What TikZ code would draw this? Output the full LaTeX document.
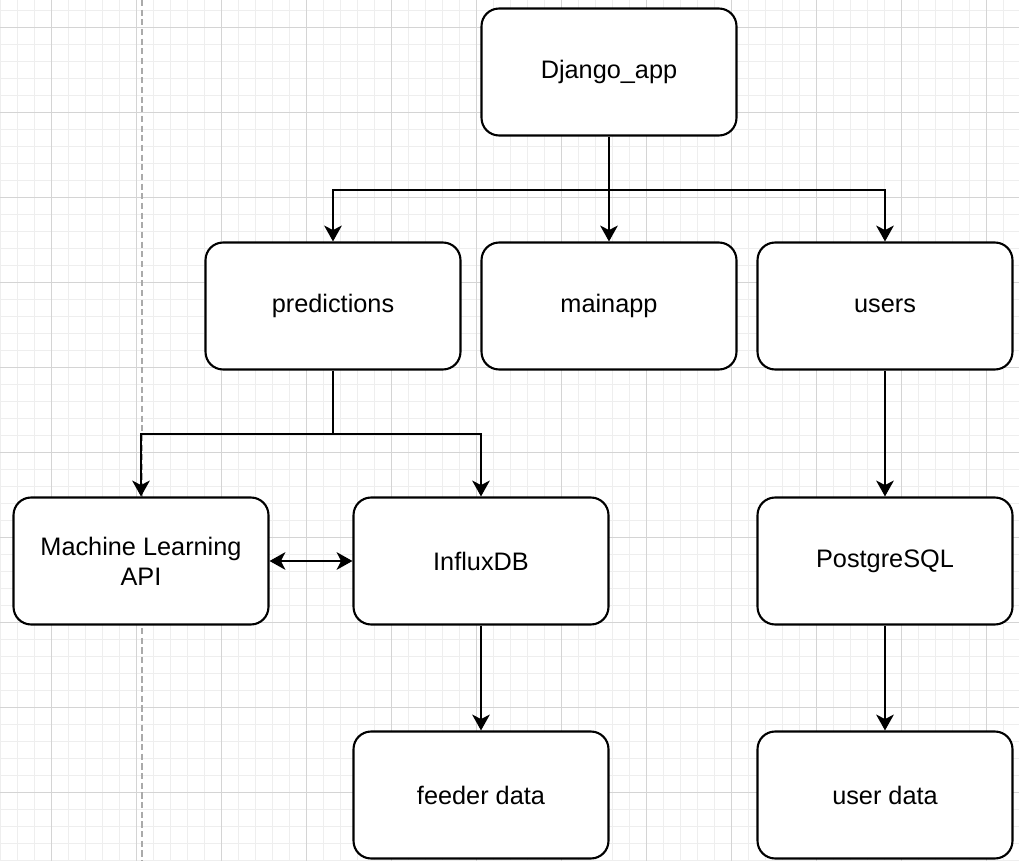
\documentclass[tikz,border=0pt]{standalone}
\usepackage{fontspec}
\setmainfont{Liberation Sans}
\usetikzlibrary{arrows.meta, positioning, calc}
\definecolor{gridminor}{RGB}{238,238,238}
\definecolor{gridmajor}{RGB}{212,212,212}
\definecolor{sepgray}{RGB}{170,170,170}

\tikzset{
  module/.style={draw, line width=1.2pt, rounded corners=10pt, fill=white,
    minimum width=5.1cm, minimum height=2.54cm, align=center,
    font=\fontsize{14.4}{17}\selectfont},
  link/.style={-{Stealth[length=9pt,width=10pt,inset=2.5pt]}, line width=1.1pt},
}

\begin{document}
\begin{tikzpicture}[x=0.02cm, y=-0.02cm]
  \useasboundingbox (0,0) rectangle (1019,861);
  \fill[white] (0,0) rectangle (1019,861);

  % grid
  \foreach \x in {0,17,...,1019}
    \draw[gridminor, line width=0.5pt] (\x,0) -- (\x,861);
  \foreach \y in {10,27,...,861}
    \draw[gridminor, line width=0.5pt] (0,\y) -- (1019,\y);
  \foreach \x in {51,136,...,1019}
    \draw[gridmajor, line width=0.5pt] (\x,0) -- (\x,861);
  \foreach \y in {27,112,...,861}
    \draw[gridmajor, line width=0.5pt] (0,\y) -- (1019,\y);
  \draw[sepgray, line width=1.2pt, dash pattern=on 3.5pt off 2pt] (142,0) -- (142,861);

  % modules
  \node[module] (django) at (609,72) {Django\_app};
  \node[module] (predictions) at (333,306) {predictions};
  \node[module] (mainapp) at (609,306) {mainapp};
  \node[module] (users) at (885,306) {users};
  \node[module] (mlapi) at (141,561) {Machine Learning\\API};
  \node[module] (influx) at (481,561) {InfluxDB};
  \node[module] (postgres) at (885,561) {PostgreSQL};
  \node[module] (feeder) at (481,795) {feeder data};
  \node[module] (userdata) at (885,795) {user data};

  % connectors
  \draw[line width=1.1pt] (django.south) -- ++(0,53) coordinate (bus1);
  \draw[link] (bus1) -| (predictions.north);
  \draw[link] (bus1) -- (mainapp.north);
  \draw[link] (bus1) -| (users.north);

  \draw[line width=1.1pt] (predictions.south) -- ++(0,63) coordinate (bus2);
  \draw[link] (bus2) -| (mlapi.north);
  \draw[link] (bus2) -| (influx.north);

  \draw[link] (users) -- (postgres);
  \draw[link] (influx) -- (feeder);
  \draw[link] (postgres) -- (userdata);
  \draw[link, {Stealth[length=9pt,width=10pt,inset=2.5pt]}-{Stealth[length=9pt,width=10pt,inset=2.5pt]}] (mlapi) -- (influx);
\end{tikzpicture}
\end{document}
